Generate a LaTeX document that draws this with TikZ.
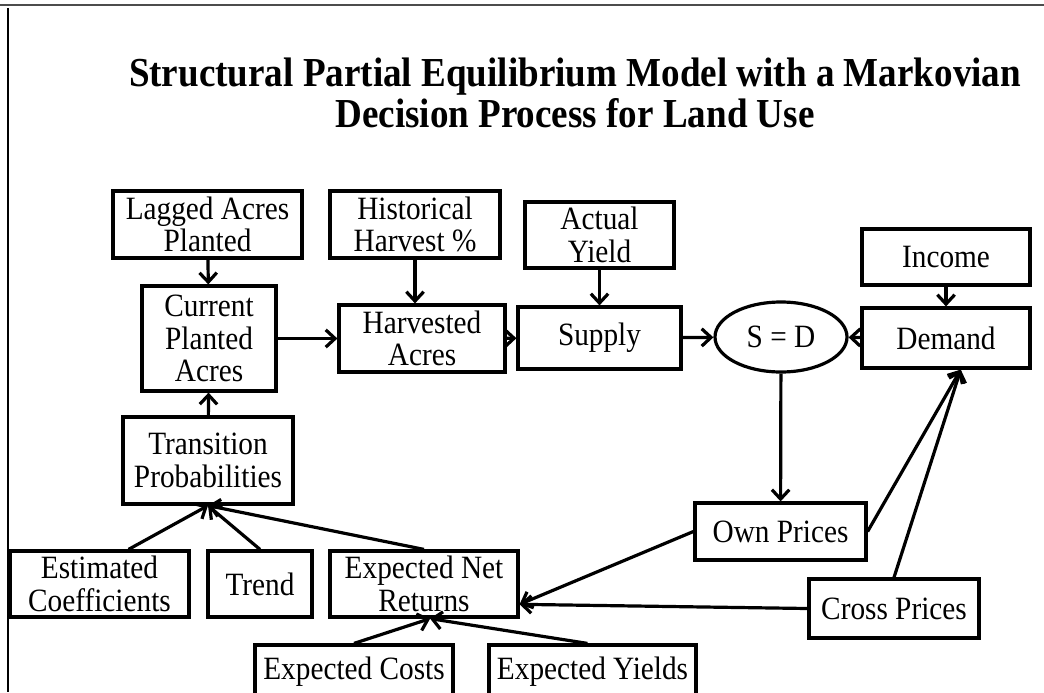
\documentclass[tikz,border=0pt]{standalone}
\usepackage{fontspec}
\setmainfont{Liberation Serif}[FakeStretch=0.9]
\usetikzlibrary{shapes.geometric,arrows.meta}

\begin{document}
\begin{tikzpicture}[x=0.75pt, y=-0.75pt, box/.style={draw, rectangle, line width=2.4pt, inner sep=0pt, align=center, font=\fontsize{24.4}{24.5}\selectfont}, ell/.style={draw, ellipse, line width=2.4pt, inner sep=0pt, font=\fontsize{24.4}{24.5}\selectfont}, n/.style={-{Straight Barb[length=7pt,width=13pt,line width=2.4pt]}, line width=2.4pt}]
                \useasboundingbox (0,0) rectangle (1044,692);
                % frame
                \draw[line width=1.5pt, black!70] (0,5) -- (1044,5);
                \draw[line width=1.5pt] (8,8) -- (8,692);
                % title
                \node[align=center, font=\fontsize{30.9}{31}\selectfont\bfseries] (title) at (575,93) {Structural Partial Equilibrium Model with a Markovian\\Decision Process for Land Use};
                % nodes
                \node[box, minimum width=141.75pt, minimum height=50.25pt] (lagged) at (207.5,224.5) {Lagged Acres\\Planted};
                \node[box, minimum width=127.5pt, minimum height=50.25pt] (hist) at (415,224.5) {Historical\\Harvest \%};
                \node[box, minimum width=111.75pt, minimum height=49.5pt] (actual) at (599.5,235) {Actual\\Yield};
                \node[box, minimum width=126pt, minimum height=42pt] (income) at (946,257) {Income};
                \node[box, minimum width=100.5pt, minimum height=78.75pt] (current) at (209,338.5) {Current\\Planted\\Acres};
                \node[box, minimum width=124.5pt, minimum height=50.25pt] (harvested) at (422,338.5) {Harvested\\Acres};
                \node[box, minimum width=122.25pt, minimum height=46.5pt] (supply) at (599.5,338) {Supply};
                \node[ell, minimum width=99pt, minimum height=52.5pt] (sd) at (781,337) {S = D};
                \node[box, minimum width=126pt, minimum height=45pt] (demand) at (946,338) {Demand};
                \node[box, minimum width=127.5pt, minimum height=65.25pt] (trans) at (208,460.5) {Transition\\Probabilities};
                \node[box, minimum width=128.25pt, minimum height=42.75pt] (own) at (780.5,531.5) {Own Prices};
                \node[box, minimum width=134.25pt, minimum height=49.5pt] (estc) at (99.5,584) {Estimated\\Coefficients};
                \node[box, minimum width=78pt, minimum height=49.5pt] (trend) at (260,584) {Trend};
                \node[box, minimum width=141pt, minimum height=49.5pt] (enr) at (424,584) {Expected Net\\Returns};
                \node[box, minimum width=127.5pt, minimum height=44.25pt] (cross) at (894,608.5) {Cross Prices};
                \node[box, minimum width=148.5pt, minimum height=40.5pt] (costs) at (354,672) {Expected Costs};
                \node[box, minimum width=155.25pt, minimum height=40.5pt] (yields) at (592.5,672) {Expected Yields};
                % edges
                \draw[n] (lagged) -- (current);
                \draw[n] (hist.south) -- (hist.south |- harvested.north);
                \draw[n] (actual) -- (supply);
                \draw[n] (income) -- (demand);
                \draw[n] (current) -- (harvested);
                \draw[n] (harvested) -- (supply);
                \draw[n] (supply) -- (sd);
                \draw[n] (demand) -- (sd);
                \draw[n] (sd) -- (own);
                \draw[n] (trans) -- (current);
                \draw[n] (estc.50) -- (trans.south);
                \draw[n] (trend.north) -- (trans.south);
                \draw[n] (enr.north) -- (trans.south);
                \draw[n] (own.west) -- (enr.-12);
                \draw[n] (cross.west) -- (enr.-12);
                \draw[n] (own.east) -- (demand.-65);
                \draw[n] (cross.north) -- (demand.-65);
                \draw[n] (costs.north) -- (enr.-80);
                \draw[n] (yields.100) -- (enr.-80);
            \end{tikzpicture}
\end{document}
